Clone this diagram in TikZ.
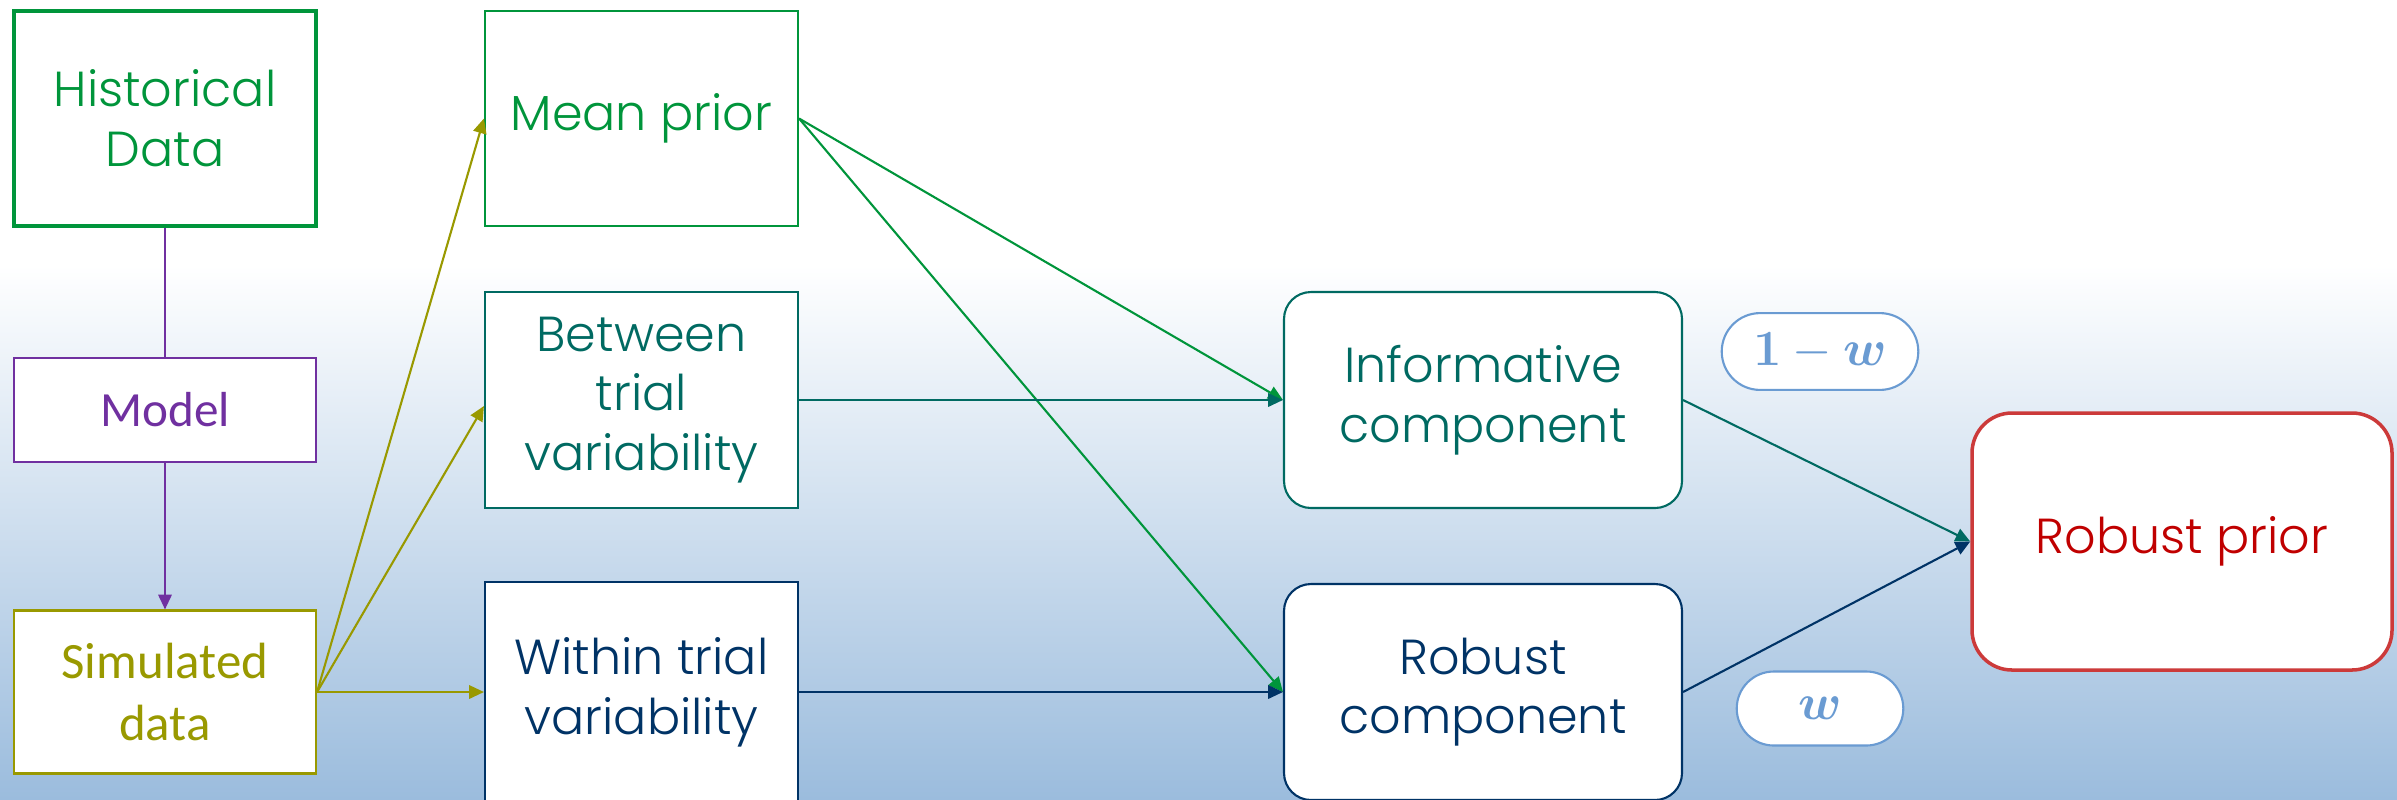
\documentclass[tikz,border=0pt]{standalone}
\usepackage{amsmath}
\usepackage[no-math]{fontspec}
\setmainfont{Poppins}[UprightFont=* Light]
\newfontfamily\calfont{Carlito}
\usepackage{tikz}
\usetikzlibrary{arrows.meta, positioning, shapes.misc}

\definecolor{histgreen}{HTML}{00953B}
\definecolor{modelpurple}{HTML}{7030A0}
\definecolor{simolive}{HTML}{999900}
\definecolor{tealcol}{HTML}{006A62}
\definecolor{navycol}{HTML}{003366}
\definecolor{robborder}{HTML}{CC3A3A}
\definecolor{robtext}{HTML}{C00000}
\definecolor{weightblue}{HTML}{6A9BD2}
\definecolor{bgblue}{HTML}{9BBCDD}

\begin{document}
\begin{tikzpicture}[
    box/.style={rectangle, draw, line width=0.6pt, fill=white, align=center, font=\fontsize{14}{17}\selectfont, inner sep=2pt},
    roundbox/.style={box, rounded corners=0.27cm},
    weight/.style={rounded rectangle, draw=weightblue, line width=0.6pt, fill=white, text=weightblue, minimum height=0.74cm, inner ysep=0.2cm, font=\fontsize{15}{17}\selectfont},
    arrow/.style={-{Triangle[length=4.2pt, width=3.8pt]}, line width=0.6pt}
]

% Background
\useasboundingbox (0,0) rectangle (23.97,-7.99);
\fill[white] (0,0) rectangle (23.97,-2.65);
\shade[top color=white, bottom color=bgblue] (0,-2.65) rectangle (23.97,-7.99);

% Nodes
\node[box, draw=histgreen, text=histgreen, line width=1pt, minimum width=3.02cm, minimum height=2.15cm] (hist) at (1.65,-1.185) {Historical\\Data};
\node[box, draw=modelpurple, text=modelpurple, minimum width=3.02cm, minimum height=1.04cm, font=\calfont\fontsize{14}{17}\selectfont] (model) at (1.65,-4.10) {Model};
\node[box, draw=simolive, text=simolive, minimum width=3.02cm, minimum height=1.63cm, font=\calfont\fontsize{14.5}{17.5}\selectfont] (sim) at (1.65,-6.92) {Simulated\\data};

\node[box, draw=histgreen, text=histgreen, minimum width=3.13cm, minimum height=2.15cm] (mean) at (6.415,-1.185) {Mean prior};
\node[box, draw=tealcol, text=tealcol, minimum width=3.13cm, minimum height=2.16cm] (between) at (6.415,-4.00) {Between\\trial\\variability};
\node[box, draw=navycol, text=navycol, minimum width=3.13cm, minimum height=2.2cm] (within) at (6.415,-6.92) {Within trial\\variability};

\node[roundbox, draw=tealcol, text=tealcol, minimum width=3.98cm, minimum height=2.16cm] (info) at (14.83,-4.00) {Informative\\component};
\node[roundbox, draw=navycol, text=navycol, minimum width=3.98cm, minimum height=2.16cm] (robcomp) at (14.83,-6.92) {Robust\\component};

\node[weight, minimum width=2.2cm] (onew) at (18.20,-3.515) {$\mathbf{1}-\boldsymbol{w}$};
\node[weight, minimum width=1.9cm] (wnode) at (18.20,-7.085) {$\boldsymbol{w}$};

\node[roundbox, draw=robborder, text=robtext, line width=1pt, rounded corners=0.4cm, minimum width=4.20cm, minimum height=2.57cm] (robprior) at (21.82,-5.415) {Robust prior};

% Arrows
\draw[modelpurple, line width=0.6pt] (hist) -- (model);
\draw[arrow, modelpurple] (model) -- (sim);
\draw[arrow, simolive] (sim.east) -- (mean.west);
\draw[arrow, simolive] (sim.east) -- ([yshift=-0.06cm]between.west);
\draw[arrow, simolive] (sim.east) -- (within.west);
\draw[arrow, histgreen] (mean.east) -- (info.west);
\draw[arrow, histgreen] (mean.east) -- (robcomp.west);
\draw[arrow, tealcol] (between) -- (info);
\draw[arrow, navycol] (within) -- (robcomp);
\draw[arrow, tealcol] (info.east) -- (robprior.west);
\draw[arrow, navycol] (robcomp.east) -- (robprior.west);

\end{tikzpicture}
\end{document}
